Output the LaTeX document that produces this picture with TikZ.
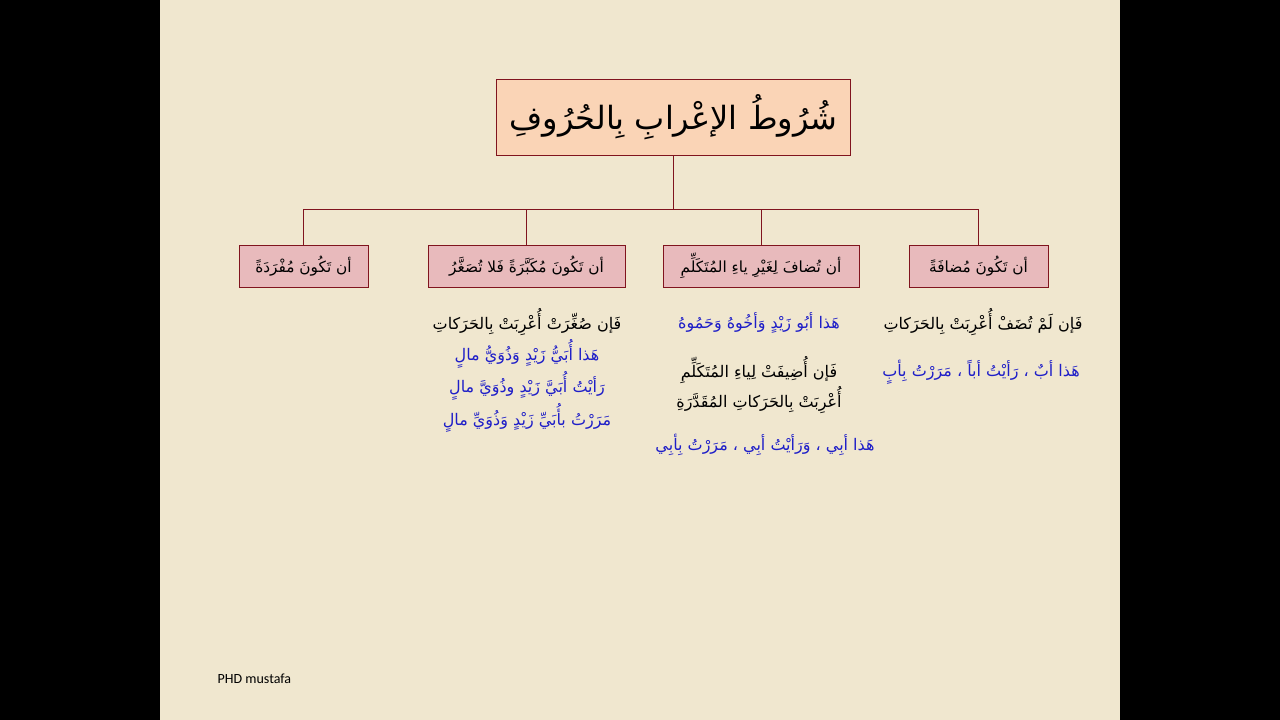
\documentclass[tikz,border=0pt]{standalone}
\usepackage{fontspec}
\setsansfont{Carlito}
\TeXXeTstate=1
\newfontfamily\arabicfont[Script=Arabic]{DejaVu Sans}
\usetikzlibrary{positioning}
\definecolor{parch}{RGB}{240,231,207}
\definecolor{peach}{RGB}{250,212,182}
\definecolor{rosy}{RGB}{232,186,188}
\definecolor{maroon}{RGB}{128,20,30}
\definecolor{exblue}{RGB}{30,30,200}
\newcommand{\ar}[1]{\arabicfont\beginR #1\endR}

\begin{document}
\begin{tikzpicture}[
x=0.75pt, y=-0.75pt,
conn/.style={draw=maroon, line width=0.6pt}
]
\tikzstyle{hd} = [draw=maroon, fill=peach, line width=0.7pt, minimum width=266pt, minimum height=57pt, font=\fontsize{24}{28}\selectfont]
\tikzstyle{bx} = [draw=maroon, fill=rosy, line width=0.7pt, minimum height=31.5pt, font=\fontsize{11.5}{14}\selectfont]
\tikzstyle{txt} = [font=\fontsize{12}{14}\selectfont, text=black]
\tikzstyle{ex} = [txt, text=exblue]

\useasboundingbox (0,0) rectangle (1280,720);
\fill[black] (0,0) rectangle (1280,720);
\fill[parch] (160,0) rectangle (1120,720);

\node[hd] (title) at (673.5,117) {\ar{شُرُوطُ الإعْرابِ بِالحُرُوفِ}};

\node[bx, minimum width=96.75pt] (b1) at (303.5,266) {\ar{أن تَكُونَ مُفْرَدَةً}};
\node[bx, minimum width=147.75pt] (b2) at (526.5,266) {\ar{أن تَكُونَ مُكَبَّرَةً فَلا تُصَغَّرُ}};
\node[bx, minimum width=147pt] (b3) at (761,266) {\ar{أن تُضافَ لِغَيْرِ ياءِ المُتَكَلِّمِ}};
\node[bx, minimum width=104.25pt] (b4) at (978.5,266) {\ar{أن تَكُونَ مُضافَةً}};

\coordinate (hub) at (673.5,209);
\draw[conn] (title.south) -- (hub);
\foreach \b in {b1,b2,b3,b4}
    \draw[conn] (hub) -| (\b.north);

% second box
\node[txt] (c2a) at (527,322) {\ar{فَإن صُغِّرَتْ أُعْرِبَتْ بِالحَرَكاتِ}};
\node[ex] (c2b) at (527,354) {\ar{هَذا أُبَيُّ زَيْدٍ وَذُوَيُّ مالٍ}};
\node[ex] (c2c) at (527,386) {\ar{رَأيْتُ أُبَيَّ زَيْدٍ وذُوَيَّ مالٍ}};
\node[ex] (c2d) at (527,418) {\ar{مَرَرْتُ بأُبَيِّ زَيْدٍ وَذُوَيِّ مالٍ}};

% third box
\node[ex] (c3a) at (759,323) {\ar{هَذا أبُو زَيْدٍ وَأخُوهُ وَحَمُوهُ}};
\node[txt] (c3b) at (759,370) {\ar{فَإن أُضِيفَتْ لِياءِ المُتَكَلِّمِ}};
\node[txt] (c3c) at (759,400) {\ar{أُعْرِبَتْ بِالحَرَكاتِ المُقَدَّرَةِ}};
\node[ex] (c3d) at (765,445) {\ar{هَذا أبِي ، وَرَأيْتُ أبِي ، مَرَرْتُ بِأبِي}};

% fourth box
\node[txt] (c4a) at (983,322) {\ar{فَإن لَمْ تُضَفْ أُعْرِبَتْ بِالحَرَكاتِ}};
\node[ex] (c4b) at (981,372) {\ar{هَذا أبٌ ، رَأيْتُ أباً ، مَرَرْتُ بِأبٍ}};

\node[anchor=west, font=\sffamily\fontsize{10.5}{12}\selectfont] (sig) at (213,679) {PHD mustafa};
\end{tikzpicture}
\end{document}
